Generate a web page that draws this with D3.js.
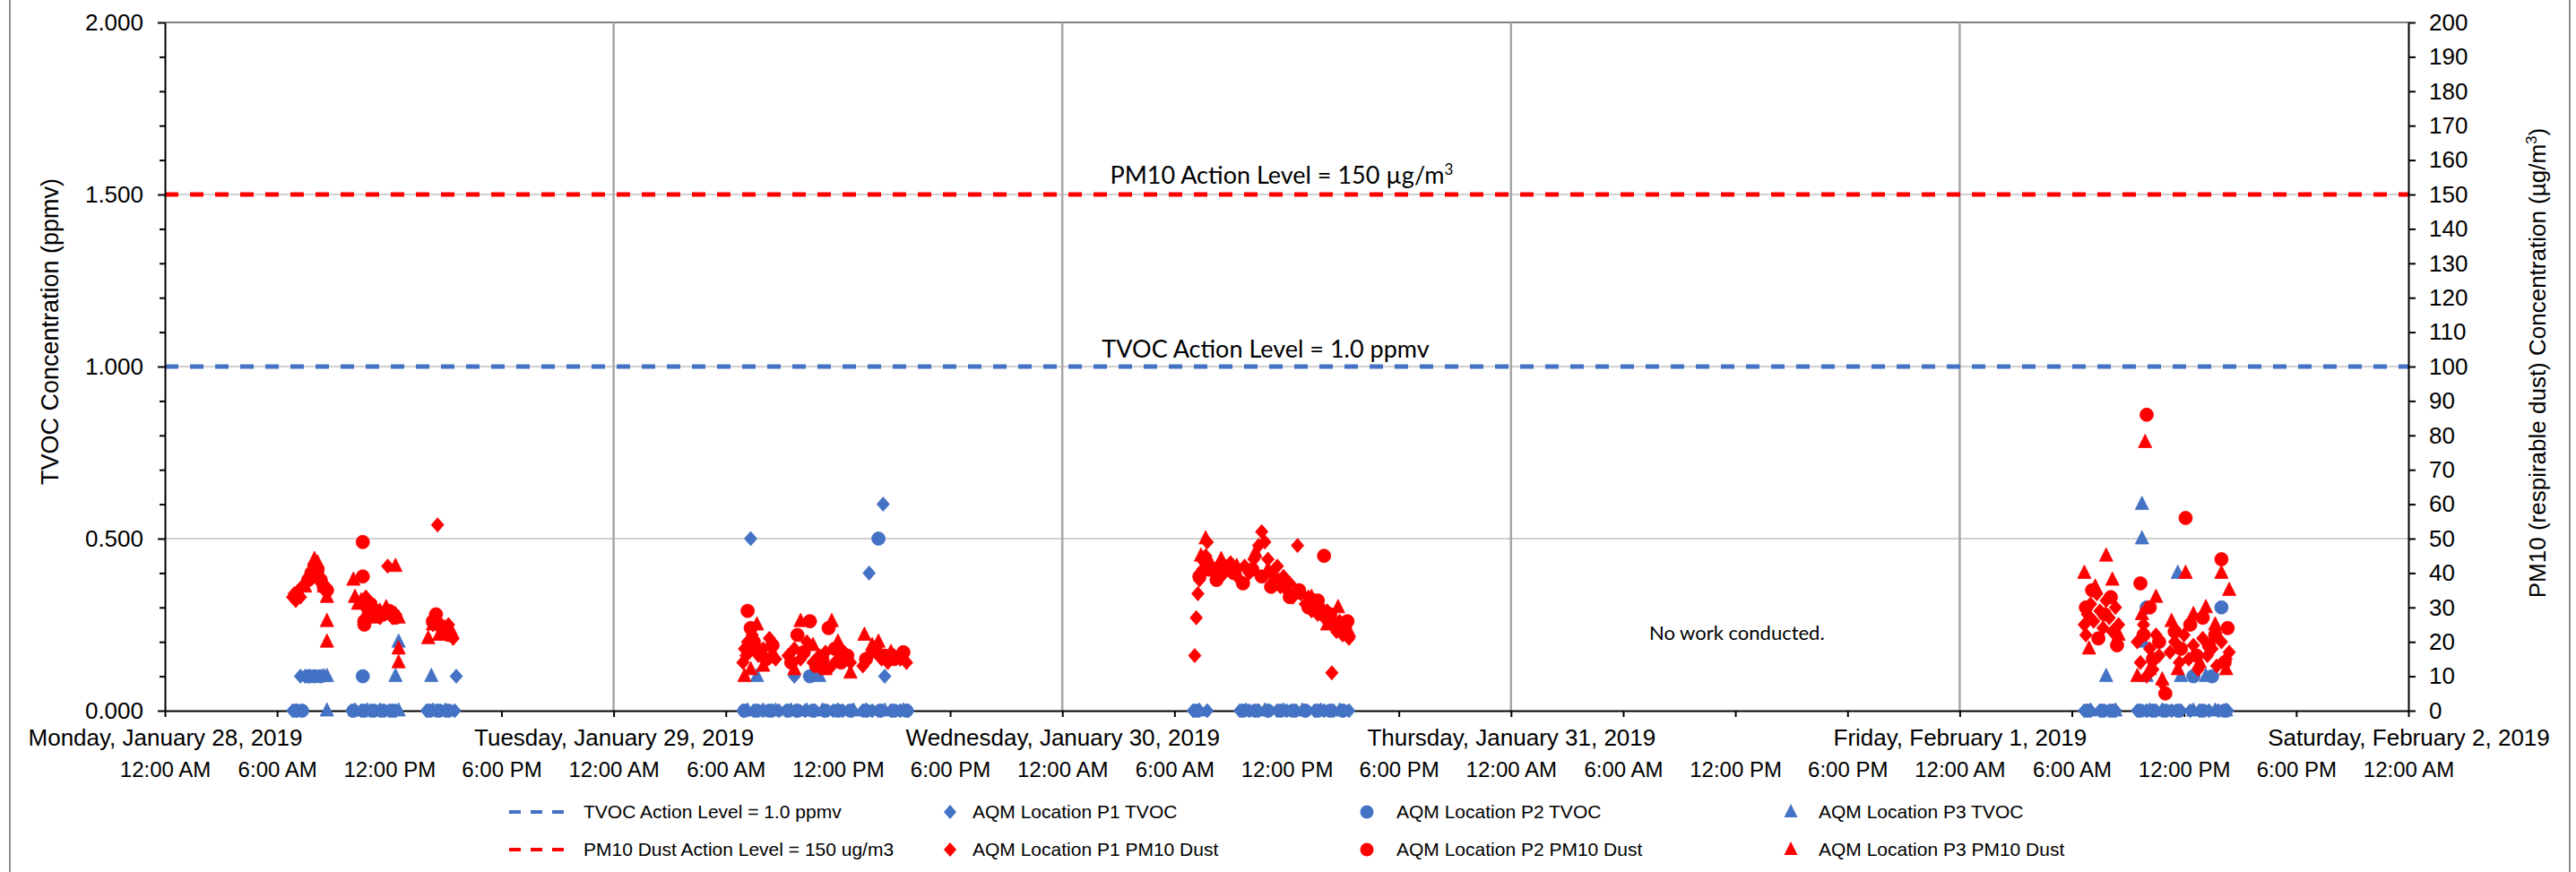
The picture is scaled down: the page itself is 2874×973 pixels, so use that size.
<!DOCTYPE html>
<html><head><meta charset="utf-8">
<script src="https://cdn.jsdelivr.net/npm/d3@7"></script>
<style>body{margin:0;background:#fff}svg{display:block}</style>
</head><body>
<svg id="chart" width="2874" height="973"></svg>
<script>
// ---------- DATA ----------
const tvocActionLevel = 1.0;     // ppmv (left axis)
const pm10ActionLevel = 150;     // ug/m3 (right axis)
const leftMajorTicks = [0, 0.5, 1.0, 1.5, 2.0];
const leftMinorTicks = [0.1,0.2,0.3,0.4,0.6,0.7,0.8,0.9,1.1,1.2,1.3,1.4,1.6,1.7,1.8,1.9];
const rightTicks = [0,10,20,30,40,50,60,70,80,90,100,110,120,130,140,150,160,170,180,190,200];
const xStart = "2019-01-28 00:00", xEnd = "2019-02-02 00:00";
const legendRow1 = ["TVOC Action Level = 1.0 ppmv","AQM Location P1 TVOC","AQM Location P2 TVOC","AQM Location P3 TVOC"];
const legendRow2 = ["PM10 Dust Action Level = 150 ug/m3","AQM Location P1 PM10 Dust","AQM Location P2 PM10 Dust","AQM Location P3 PM10 Dust"];

const p1Tvoc = [
 ["01-28 06:50",0],["01-28 07:05",0],["01-28 07:15",0.1],["01-28 07:30",0.1],["01-28 07:45",0.1],["01-28 10:00",0],["01-28 10:30",0],["01-28 11:00",0],["01-28 11:30",0],["01-28 12:00",0],["01-28 12:20",0],["01-28 14:00",0],["01-28 14:30",0],["01-28 15:00",0],["01-28 15:30",0],["01-28 15:35",0.1],
 ["01-29 06:55",0],["01-29 07:20",0.5],["01-29 07:30",0],["01-29 08:00",0],["01-29 08:30",0],["01-29 08:50",0],["01-29 09:15",0],["01-29 09:40",0.1],["01-29 09:45",0],["01-29 10:15",0],["01-29 10:45",0],["01-29 11:15",0],["01-29 11:45",0],["01-29 12:15",0],["01-29 12:45",0],["01-29 13:20",0],["01-29 13:40",0.4],["01-29 13:50",0],["01-29 14:20",0],["01-29 14:25",0.6],["01-29 14:30",0.1],["01-29 14:50",0],["01-29 15:20",0],["01-29 15:45",0],
 ["01-30 07:00",0],["01-30 07:20",0],["01-30 07:45",0],["01-30 09:30",0],["01-30 10:00",0],["01-30 10:30",0],["01-30 11:00",0],["01-30 11:30",0],["01-30 12:00",0],["01-30 12:30",0],["01-30 13:00",0],["01-30 13:30",0],["01-30 14:00",0],["01-30 14:30",0],["01-30 15:00",0],["01-30 15:20",0],
 ["02-01 06:40",0],["02-01 07:00",0],["02-01 07:30",0],["02-01 08:00",0],["02-01 08:20",0],["02-01 09:30",0],["02-01 10:00",0],["02-01 10:30",0],["02-01 10:50",0],["02-01 11:20",0],["02-01 11:50",0],["02-01 12:20",0],["02-01 12:50",0],["02-01 13:20",0],["02-01 13:50",0],["02-01 14:20",0]
];
const p2Tvoc = [
 ["01-28 07:00",0],["01-28 07:20",0],["01-28 07:40",0.1],["01-28 08:00",0.1],["01-28 08:20",0.1],["01-28 10:05",0],["01-28 10:35",0.1],["01-28 10:40",0],["01-28 11:10",0],["01-28 11:40",0],["01-28 12:10",0],["01-28 14:10",0],["01-28 14:40",0],["01-28 15:10",0],
 ["01-29 07:00",0],["01-29 07:40",0],["01-29 08:20",0],["01-29 09:20",0],["01-29 09:50",0],["01-29 10:30",0.1],["01-29 10:40",0],["01-29 11:20",0],["01-29 12:00",0],["01-29 12:40",0],["01-29 13:30",0],["01-29 14:10",0.5],["01-29 14:15",0],["01-29 15:00",0],["01-29 15:40",0],
 ["01-30 07:10",0],["01-30 09:40",0],["01-30 10:20",0],["01-30 11:00",0],["01-30 11:40",0],["01-30 12:20",0],["01-30 13:00",0],["01-30 13:40",0],["01-30 14:20",0],["01-30 15:00",0],
 ["02-01 06:50",0],["02-01 07:40",0],["02-01 08:10",0],["02-01 09:40",0],["02-01 10:00",0.3],["02-01 10:20",0],["02-01 11:00",0],["02-01 11:40",0],["02-01 12:30",0.1],["02-01 13:00",0],["02-01 13:30",0.1],["02-01 14:00",0.3],["02-01 14:10",0]
];
const p3Tvoc = [
 ["01-28 08:30",0.1],["01-28 08:40",0.1],["01-28 08:40",0],["01-28 10:10",0],["01-28 10:50",0],["01-28 11:30",0],["01-28 12:20",0.1],["01-28 12:30",0.2],["01-28 12:30",0],["01-28 14:15",0.1],["01-28 14:20",0],["01-28 15:00",0],
 ["01-29 07:10",0],["01-29 07:40",0.1],["01-29 08:00",0],["01-29 08:40",0],["01-29 09:30",0],["01-29 10:20",0],["01-29 11:00",0.1],["01-29 11:10",0],["01-29 12:00",0],["01-29 12:50",0],["01-29 13:30",0],["01-29 14:30",0],["01-29 15:30",0],
 ["01-30 07:20",0],["01-30 09:50",0],["01-30 10:50",0],["01-30 11:50",0],["01-30 12:50",0],["01-30 13:50",0],["01-30 14:50",0],
 ["02-01 07:00",0],["02-01 07:50",0.1],["02-01 08:20",0],["02-01 09:45",0.6],["02-01 09:45",0.5],["02-01 09:50",0.2],["02-01 10:00",0.1],["02-01 10:10",0],["02-01 10:50",0],["02-01 11:40",0.4],["02-01 11:50",0.1],["02-01 12:30",0],["02-01 13:10",0.1],["02-01 13:40",0],["02-01 14:15",0]
];

const p1Pm10 = [
 ["01-28 06:50",33],["01-28 06:55",34],["01-28 07:00",32],["01-28 07:05",34],["01-28 07:10",35],["01-28 07:15",33],["01-28 07:20",36],["01-28 07:30",37],["01-28 07:40",38],["01-28 07:50",40],["01-28 08:00",42],["01-28 08:10",40],["01-28 08:20",38],["01-28 08:30",36],
 ["01-28 10:45",33],["01-28 11:00",30],["01-28 11:15",28],["01-28 11:30",27],["01-28 11:45",28],["01-28 11:55",42],["01-28 12:10",27],["01-28 12:20",28],
 ["01-28 14:20",25],["01-28 14:35",54],["01-28 14:45",24],["01-28 15:00",23],["01-28 15:10",25],["01-28 15:25",21],
 ["01-29 06:55",14],["01-29 07:00",18],["01-29 07:05",16],["01-29 07:10",20],["01-29 07:15",17],["01-29 07:25",22],["01-29 07:35",19],["01-29 07:45",16],["01-29 08:00",18],["01-29 08:20",21],["01-29 08:40",15],
 ["01-29 09:20",16],["01-29 09:40",18],["01-29 10:00",15],["01-29 10:20",20],["01-29 10:40",14],["01-29 11:00",16],["01-29 11:20",17],["01-29 11:40",13],["01-29 12:00",15],["01-29 12:20",17],["01-29 12:40",14],
 ["01-29 13:20",13],["01-29 13:40",16],["01-29 14:00",17],["01-29 14:20",15],["01-29 14:40",14],["01-29 15:00",16],["01-29 15:20",15],["01-29 15:40",14],
 ["01-30 07:05",16],["01-30 07:10",27],["01-30 07:15",34],["01-30 07:20",38],["01-30 07:30",41],["01-30 07:40",45],["01-30 07:45",49],["01-30 08:10",40],["01-30 08:20",42],["01-30 08:30",39],["01-30 08:45",41],["01-30 09:00",43],["01-30 09:15",40],["01-30 09:30",38],["01-30 09:45",42],["01-30 10:00",40],["01-30 10:15",44],["01-30 10:30",48],["01-30 10:40",52],["01-30 10:50",49],["01-30 11:00",44],["01-30 11:10",40],["01-30 11:20",38],["01-30 11:30",42],["01-30 11:40",36],["01-30 11:50",39],["01-30 12:00",35],["01-30 12:10",37],["01-30 12:20",33],["01-30 12:35",48],["01-30 12:45",34],["01-30 13:00",31],["01-30 13:10",33],["01-30 13:20",29],["01-30 13:30",32],["01-30 13:40",28],["01-30 13:50",30],["01-30 14:00",27],["01-30 14:10",29],["01-30 14:25",11],["01-30 14:30",25],["01-30 14:40",23],["01-30 14:50",26],["01-30 15:00",22],["01-30 15:10",24],["01-30 15:20",21],
 ["02-01 06:40",25],["02-01 06:45",22],["02-01 06:50",28],["02-01 07:00",31],["02-01 07:10",26],["02-01 07:20",34],["02-01 07:30",29],["02-01 07:40",24],["02-01 07:50",32],["02-01 08:00",27],["02-01 08:10",23],["02-01 08:20",30],["02-01 08:30",25],
 ["02-01 09:30",20],["02-01 09:40",14],["02-01 09:50",25],["02-01 10:00",10],["02-01 10:10",18],["02-01 10:20",12],["02-01 10:30",22],["02-01 10:40",16],["02-01 10:50",8],
 ["02-01 11:15",17],["02-01 11:30",20],["02-01 11:45",14],["02-01 12:00",22],["02-01 12:15",15],["02-01 12:30",19],["02-01 12:45",12],["02-01 13:00",21],["02-01 13:15",16],["02-01 13:30",18],["02-01 13:45",13],["02-01 14:00",20],["02-01 14:15",15],["02-01 14:25",17]
];
const p2Pm10 = [
 ["01-28 07:40",38],["01-28 07:50",40],["01-28 08:00",42],["01-28 08:10",41],["01-28 08:20",38],["01-28 08:30",36],["01-28 08:40",35],
 ["01-28 10:35",49],["01-28 10:35",39],["01-28 10:40",25],["01-28 10:40",26],["01-28 10:50",30],["01-28 11:00",31],["01-28 11:20",29],["01-28 11:40",28],["01-28 12:00",29],["01-28 12:10",28],["01-28 12:20",27],
 ["01-28 14:20",26],["01-28 14:30",28],["01-28 14:40",25],["01-28 14:50",24],["01-28 15:00",23],["01-28 15:10",22],
 ["01-29 07:10",29],["01-29 07:20",24],["01-29 07:30",20],["01-29 07:50",17],["01-29 08:10",15],["01-29 08:30",19],["01-29 09:30",14],["01-29 09:50",22],["01-29 10:10",17],["01-29 10:30",26],["01-29 10:50",13],["01-29 11:10",15],["01-29 11:30",24],["01-29 11:50",18],["01-29 12:10",14],["01-29 12:30",16],["01-29 13:30",15],["01-29 14:00",18],["01-29 14:30",16],["01-29 15:00",15],["01-29 15:30",17],
 ["01-30 07:20",39],["01-30 07:35",44],["01-30 07:50",41],["01-30 08:15",38],["01-30 08:40",42],["01-30 09:10",40],["01-30 09:40",37],["01-30 10:10",41],["01-30 10:40",39],["01-30 11:10",36],["01-30 11:40",38],["01-30 12:10",33],["01-30 12:40",35],["01-30 13:10",30],["01-30 13:40",32],["01-30 14:00",45],["01-30 14:20",28],["01-30 14:50",24],["01-30 15:15",26],
 ["02-01 06:45",30],["02-01 07:05",35],["02-01 07:25",21],["02-01 07:45",28],["02-01 08:05",33],["02-01 08:25",19],["02-01 09:40",37],["02-01 09:50",22],["02-01 10:00",86],["02-01 10:10",30],["02-01 10:20",15],["02-01 10:40",20],["02-01 11:00",5],["02-01 11:30",23],["02-01 11:50",18],["02-01 12:05",56],["02-01 12:20",25],["02-01 12:40",16],["02-01 13:00",27],["02-01 13:20",19],["02-01 13:40",22],["02-01 14:00",44],["02-01 14:10",14],["02-01 14:20",24]
];
const p3Pm10 = [
 ["01-28 07:30",36],["01-28 07:50",41],["01-28 08:00",44],["01-28 08:10",43],["01-28 08:30",36],["01-28 08:40",33],["01-28 08:40",26],["01-28 08:40",20],
 ["01-28 10:05",38],["01-28 10:10",33],["01-28 10:20",31],["01-28 10:30",32],["01-28 10:50",29],["01-28 11:10",27],["01-28 11:30",29],["01-28 11:50",30],["01-28 12:20",42],["01-28 12:20",28],["01-28 12:30",27],["01-28 12:30",18],["01-28 12:30",14],
 ["01-28 14:05",21],["01-28 14:20",25],["01-28 14:40",22],["01-28 15:00",24],["01-28 15:20",23],
 ["01-29 07:00",10],["01-29 07:20",12],["01-29 07:40",25],["01-29 08:00",13],["01-29 08:30",17],["01-29 09:40",12],["01-29 10:00",26],["01-29 10:40",19],["01-29 11:20",12],["01-29 11:40",26],["01-29 12:00",20],["01-29 12:40",11],["01-29 13:25",22],["01-29 13:50",19],["01-29 14:10",20],["01-29 14:50",17],["01-29 15:30",16],
 ["01-30 07:25",45],["01-30 07:40",50],["01-30 07:55",43],["01-30 08:30",44],["01-30 09:20",42],["01-30 10:20",46],["01-30 11:00",41],["01-30 11:50",37],["01-30 12:30",34],["01-30 13:20",33],["01-30 14:10",25],["01-30 14:45",30],["01-30 15:20",23],
 ["02-01 06:40",40],["02-01 06:55",18],["02-01 07:15",36],["02-01 07:50",45],["02-01 08:10",38],["02-01 08:30",22],["02-01 09:30",10],["02-01 09:45",28],["02-01 09:55",78],["02-01 10:10",12],["02-01 10:30",33],["02-01 10:50",9],["02-01 11:20",26],["02-01 11:40",12],["02-01 12:05",40],["02-01 12:30",28],["02-01 12:50",14],["02-01 13:10",30],["02-01 13:40",25],["02-01 14:00",40],["02-01 14:15",12],["02-01 14:25",35]
];

// ---------- DRAW ----------
const BLUE = "#4472C4", RED = "#FF0000";
const FONT = "'Liberation Sans', Arial, sans-serif";
const CAL = "Lato, 'Open Sans', sans-serif";
const parseFull = d3.timeParse("%Y-%m-%d %H:%M");
const parse = s => parseFull("2019-" + s);

const svg = d3.select("#chart");
const L = 184, R = 2687, T = 25, B = 793;
const x = d3.scaleTime().domain([parseFull(xStart), parseFull(xEnd)]).range([L, R]);
const yL = d3.scaleLinear().domain([0, 2]).range([B, T]);
const yR = d3.scaleLinear().domain([0, 200]).range([B, T]);

// outer chart border
svg.append("rect").attr("x", 11).attr("y", -3).attr("width", 2856).attr("height", 979)
  .attr("fill", "none").attr("stroke", "#8c8c8c").attr("stroke-width", 2);

// horizontal gridlines
svg.append("g").selectAll("line").data(leftMajorTicks.filter(d => d > 0 && d < 2)).join("line")
  .attr("x1", L).attr("x2", R).attr("y1", d => yL(d)).attr("y2", d => yL(d))
  .attr("stroke", "#d0d0d0").attr("stroke-width", 2);
svg.append("line").attr("x1", L).attr("x2", R).attr("y1", yL(2)).attr("y2", yL(2))
  .attr("stroke", "#7f7f7f").attr("stroke-width", 2);

// vertical day gridlines
const days = d3.timeDay.range(parseFull(xStart), parseFull(xEnd)).slice(1);
svg.append("g").selectAll("line").data(days).join("line")
  .attr("x1", d => x(d)).attr("x2", d => x(d)).attr("y1", T).attr("y2", B)
  .attr("stroke", "#a6a6a6").attr("stroke-width", 2.5);

// action levels
svg.append("line").attr("x1", L).attr("x2", R).attr("y1", yL(tvocActionLevel)).attr("y2", yL(tvocActionLevel))
  .attr("stroke", BLUE).attr("stroke-width", 5).attr("stroke-dasharray", "15,13");
svg.append("line").attr("x1", L).attr("x2", R).attr("y1", yR(pm10ActionLevel)).attr("y2", yR(pm10ActionLevel))
  .attr("stroke", RED).attr("stroke-width", 5).attr("stroke-dasharray", "15,13");

// axes
function styleAxis(g) {
  g.selectAll("path.domain").attr("stroke", "#000").attr("stroke-width", 2);
  g.selectAll(".tick line").attr("stroke", "#000").attr("stroke-width", 2);
  g.selectAll("text").attr("font-family", FONT).attr("font-size", 26).attr("fill", "#000");
}
svg.append("g").attr("transform", `translate(${L},0)`)
  .call(d3.axisLeft(yL).tickValues(leftMinorTicks).tickSize(6).tickFormat(""))
  .call(g => g.select(".domain").remove())
  .call(styleAxis);
svg.append("g").attr("transform", `translate(${L},0)`)
  .call(d3.axisLeft(yL).tickValues(leftMajorTicks).tickSize(8).tickSizeOuter(0).tickPadding(16).tickFormat(d3.format(".3f")))
  .call(styleAxis);
svg.append("g").attr("transform", `translate(${R},0)`)
  .call(d3.axisRight(yR).tickValues(rightTicks).tickSize(8).tickSizeOuter(0).tickPadding(15))
  .call(styleAxis);
// x axis: hours
svg.append("g").attr("transform", `translate(0,${B})`)
  .call(d3.axisBottom(x).ticks(d3.timeHour.every(6)).tickSize(7).tickSizeOuter(0).tickPadding(50).tickFormat(d3.timeFormat("%-I:%M %p")))
  .call(styleAxis)
  .call(g => g.selectAll("text").attr("font-size", 24));
// x axis: day labels
svg.append("g").attr("transform", `translate(0,${B})`)
  .call(d3.axisBottom(x).ticks(d3.timeDay.every(1)).tickSize(0).tickPadding(21).tickFormat(d3.timeFormat("%A, %B %-d, %Y")))
  .call(g => g.select(".domain").remove())
  .call(styleAxis);

// axis titles
svg.append("text").attr("transform", `translate(65,370) rotate(-90)`).attr("text-anchor", "middle")
  .attr("font-family", FONT).attr("font-size", 27).text("TVOC Concentration (ppmv)");
const rt = svg.append("text").attr("transform", `translate(2840,405) rotate(-90)`).attr("text-anchor", "middle")
  .attr("font-family", FONT).attr("font-size", 26);
rt.append("tspan").text("PM10 (respirable dust) Concentration (µg/m");
rt.append("tspan").attr("font-size", 17).attr("dy", -10).text("3");
rt.append("tspan").attr("dy", 10).text(")");

// annotations
const a1 = svg.append("text").attr("x", 1430).attr("y", yR(pm10ActionLevel) - 12).attr("text-anchor", "middle")
  .attr("font-family", CAL).attr("font-size", 27);
a1.append("tspan").text("PM10 Action Level = 150 µg/m");
a1.append("tspan").attr("font-size", 17).attr("dy", -10).text("3");
svg.append("text").attr("x", 1412).attr("y", yL(tvocActionLevel) - 10).attr("text-anchor", "middle")
  .attr("font-family", CAL).attr("font-size", 27).text("TVOC Action Level = 1.0 ppmv");
svg.append("text").attr("x", x(parse("01-31 14:00")) - 40).attr("y", 714).attr("text-anchor", "middle")
  .attr("font-family", CAL).attr("font-size", 22).text("No work conducted.");

// marker shapes
const diamond = { draw(c) { c.moveTo(0,-8); c.lineTo(7,0); c.lineTo(0,8); c.lineTo(-7,0); c.closePath(); } };
const circle = { draw(c) { c.moveTo(7.5,0); c.arc(0,0,7.5,0,2*Math.PI); c.closePath(); } };
const tri = { draw(c) { c.moveTo(0,-9); c.lineTo(7.5,6); c.lineTo(-7.5,6); c.closePath(); } };

function plot(data, y, shape, color) {
  svg.append("g").selectAll("path").data(data).join("path")
    .attr("transform", d => `translate(${x(parse(d[0]))},${y(d[1])})`)
    .attr("d", d3.symbol().type(shape)())
    .attr("fill", color).attr("stroke", color).attr("stroke-width", 0.8);
}
plot(p1Tvoc, yL, diamond, BLUE);
plot(p2Tvoc, yL, circle, BLUE);
plot(p3Tvoc, yL, tri, BLUE);
plot(p1Pm10, yR, diamond, RED);
plot(p2Pm10, yR, circle, RED);
plot(p3Pm10, yR, tri, RED);

// legend
const legY = [906, 948];
const legCols = [{m: 600, t: 651}, {m: 1060, t: 1085}, {m: 1525, t: 1558}, {m: 1998, t: 2029}];
const shapes = [diamond, circle, tri];
[legendRow1, legendRow2].forEach((row, ri) => {
  const col = ri === 0 ? BLUE : RED;
  const g = svg.append("g");
  g.append("line").attr("x1", 568).attr("x2", 632).attr("y1", legY[ri]).attr("y2", legY[ri])
    .attr("stroke", col).attr("stroke-width", 4).attr("stroke-dasharray", "13,11");
  shapes.forEach((s, i) => {
    g.append("path").attr("transform", `translate(${legCols[i+1].m},${legY[ri]})`)
      .attr("d", d3.symbol().type(s)()).attr("fill", col);
  });
  g.selectAll("text").data(row).join("text")
    .attr("x", (d, i) => legCols[i].t).attr("y", legY[ri]).attr("dy", "0.35em")
    .attr("font-family", FONT).attr("font-size", 21).text(d => d);
});
</script>
</body></html>
